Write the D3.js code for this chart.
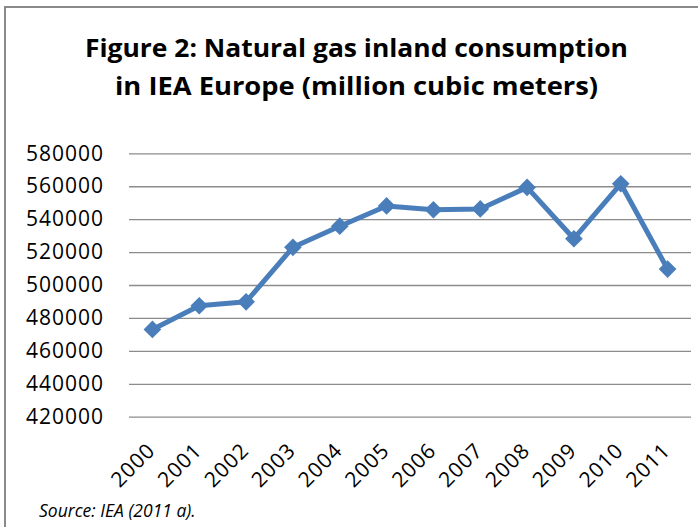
<!DOCTYPE html>
<html lang="en">
  <head>
    <meta charset="UTF-8" />
    <title>Natural gas inland consumption</title>
    <script src="https://d3js.org/d3.v7.min.js"></script>
    <style>
      body {
        margin: 0;
        background: #fff;
      }
      svg {
        display: block;
        font-family: "Open Sans", sans-serif;
      }
      .grid line {
        stroke: #8c8c8c;
        stroke-width: 1.3;
      }
    </style>
  </head>
  <body>
    <div id="chart"></div>
    <script>
      // data
      const years = ["2000", "2001", "2002", "2003", "2004", "2005", "2006", "2007", "2008", "2009", "2010", "2011"];
      const consumption = [473000, 487400, 489800, 522900, 535700, 548000, 545700, 546200, 559300, 528100, 561500, 509700];
      const yTicks = [420000, 440000, 460000, 480000, 500000, 520000, 540000, 560000, 580000];
      const titleLines = ["Figure 2: Natural gas inland consumption", "in IEA Europe (million cubic meters)"];
      const sourceNote = "Source: IEA (2011 a).";

      const width = 698;
      const height = 527;
      const plot = { left: 129, right: 691, top: 153.3, bottom: 416.7 };

      const svg = d3
        .select("#chart")
        .append("svg")
        .attr("width", width)
        .attr("height", height);

      // outer frame (only top and left edges show)
      svg.append("path")
        .attr("d", `M5,${height} L5,7 L${width},7`)
        .attr("fill", "none")
        .attr("stroke", "#8a8a8a")
        .attr("stroke-width", 2);

      // title, two lines stretched to the widths in the picture
      const titleWidths = [543, 483];
      svg.append("g")
        .selectAll("text")
        .data(titleLines)
        .enter()
        .append("text")
        .attr("x", 356.5)
        .attr("y", (d, i) => 57 + i * 37.5)
        .attr("text-anchor", "middle")
        .attr("font-weight", "bold")
        .attr("font-size", 25)
        .attr("textLength", (d, i) => titleWidths[i])
        .attr("lengthAdjust", "spacingAndGlyphs")
        .attr("fill", "#000")
        .text((d) => d);

      const x = d3.scaleBand().domain(years).range([plot.left, plot.right]);
      const y = d3.scaleLinear().domain([420000, 580000]).range([plot.bottom, plot.top]);

      // y axis + gridlines
      const yAxis = svg.append("g")
        .attr("class", "grid")
        .attr("transform", `translate(${plot.left},0)`)
        .call(d3.axisLeft(y).tickValues(yTicks).tickSize(-(plot.right - plot.left)).tickPadding(25).tickFormat(d3.format("d")));
      yAxis.select(".domain").remove();
      yAxis.selectAll("text")
        .attr("font-size", 21)
        .attr("letter-spacing", 1)
        .attr("fill", "#000")
        .attr("font-family", "Open Sans, sans-serif");

      // x axis labels, rotated
      const xAxis = svg.append("g")
        .attr("transform", `translate(0,${plot.bottom})`)
        .call(d3.axisBottom(x).tickSize(0).tickPadding(0));
      xAxis.select(".domain").remove();
      xAxis.selectAll("text")
        .attr("font-size", 21)
        .attr("letter-spacing", 1)
        .attr("fill", "#000")
        .attr("font-family", "Open Sans, sans-serif")
        .attr("text-anchor", "end")
        .attr("dy", null)
        .attr("y", 0)
        .attr("transform", "translate(4,35) rotate(-45)");

      // line
      const pts = years.map((yr, i) => ({ yr, v: consumption[i] }));
      const line = d3.line()
        .x((d) => x(d.yr) + x.bandwidth() / 2)
        .y((d) => y(d.v));

      svg.append("path")
        .datum(pts)
        .attr("d", line)
        .attr("fill", "none")
        .attr("stroke", "#4a7ebb")
        .attr("stroke-width", 5)
        .attr("stroke-linejoin", "round");

      // diamond markers
      svg.append("g")
        .selectAll("path")
        .data(pts)
        .enter()
        .append("path")
        .attr("d", d3.symbol().type(d3.symbolDiamond2).size(200))
        .attr("transform", (d) => `translate(${x(d.yr) + x.bandwidth() / 2},${y(d.v)})`)
        .attr("fill", "#4a7ebb");

      // source note
      svg.append("text")
        .attr("x", 39)
        .attr("y", 517)
        .attr("font-style", "italic")
        .attr("font-size", 17.5)
        .attr("fill", "#000")
        .text(sourceNote);
    </script>
  </body>
</html>
